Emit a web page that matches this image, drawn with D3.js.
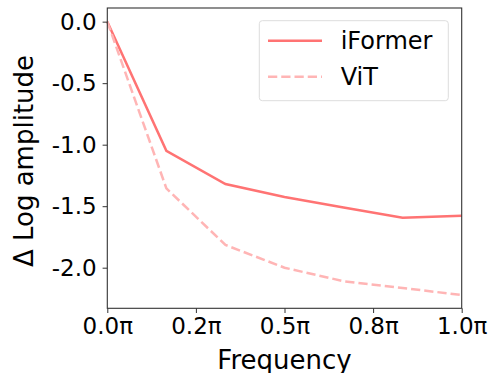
<!DOCTYPE html>
<html>
<head>
<meta charset="utf-8">
<script src="https://cdn.jsdelivr.net/npm/d3@7"></script>
<style>
  body { margin: 0; background: #fff; }
  text { font-family: "DejaVu Sans", sans-serif; fill: #000; }
</style>
</head>
<body>
<svg id="painter" width="495" height="373"></svg>
<script>
const freq = [0, 1 / 6, 2 / 6, 3 / 6, 4 / 6, 5 / 6, 1];
const iformer = [0, -1.05, -1.32, -1.425, -1.51, -1.593, -1.577];
const vit = [0, -1.355, -1.815, -2.0, -2.11, -2.165, -2.222];
const xTicks = [0, 0.25, 0.5, 0.75, 1];
const xTickLabels = ["0.0π", "0.2π", "0.5π", "0.8π", "1.0π"];
const yTicks = [0, -0.5, -1, -1.5, -2];

const series = [
    { name: "iFormer", values: iformer, color: "#ff7373", dash: null },
    { name: "ViT", values: vit, color: "#ffb5b5", dash: "9.25,4" },
];

const pLeft = 107.3, pRight = 461.7, pTop = 8, pBottom = 308.3;
const svg = d3.select("#painter");

const x = d3.scaleLinear().domain([0, 1]).range([pLeft, pRight]);
const y = d3.scaleLinear().domain([-2.33, 0.111]).range([pBottom, pTop]);

// lines
const line = d3
    .line()
    .x((d, i) => x(freq[i]))
    .y((d) => y(d));

svg.selectAll("path.series")
    .data(series)
    .enter()
    .append("path")
    .attr("class", "series")
    .attr("d", (d) => line(d.values))
    .attr("fill", "none")
    .attr("stroke", (d) => d.color)
    .attr("stroke-width", 2.5)
    .attr("stroke-dasharray", (d) => d.dash);

// axes
const xAxis = svg
    .append("g")
    .attr("transform", `translate(0,${pBottom})`)
    .call(
        d3.axisBottom(x)
            .tickValues(xTicks)
            .tickFormat((d, i) => xTickLabels[i])
            .tickSize(4.7)
            .tickPadding(5)
    );
const yAxis = svg
    .append("g")
    .attr("transform", `translate(${pLeft},0)`)
    .call(
        d3.axisLeft(y)
            .tickValues(yTicks)
            .tickFormat((d) => d3.format(".1f")(d).replace("−", "-"))
            .tickSize(4.7)
            .tickPadding(6)
    );
[xAxis, yAxis].forEach((g) => {
    g.select(".domain").remove();
    g.selectAll(".tick line").attr("stroke", "#333").attr("stroke-width", 1);
    g.selectAll(".tick text")
        .style("font-family", "DejaVu Sans")
        .style("font-size", "23px")
        .attr("fill", "#000");
});

// frame
svg.append("rect")
    .attr("x", pLeft)
    .attr("y", pTop)
    .attr("width", pRight - pLeft)
    .attr("height", pBottom - pTop)
    .attr("fill", "none")
    .attr("stroke", "#333")
    .attr("stroke-width", 1.1);

// labels
svg.append("text")
    .attr("x", (pLeft + pRight) / 2)
    .attr("y", 369)
    .attr("text-anchor", "middle")
    .style("font-size", "26px")
    .text("Frequency");

svg.append("text")
    .attr("transform", "translate(33,161) rotate(-90)")
    .attr("text-anchor", "middle")
    .style("font-size", "26px")
    .text("Δ Log amplitude");

// legend
const legend = svg.append("g");
legend.append("rect")
    .attr("x", 259.3)
    .attr("y", 20.7)
    .attr("width", 189)
    .attr("height", 80)
    .attr("rx", 3)
    .attr("fill", "#fff")
    .attr("fill-opacity", 0.8)
    .attr("stroke", "#ddd")
    .attr("stroke-width", 1);

const items = legend
    .selectAll("g.item")
    .data(series)
    .enter()
    .append("g")
    .attr("class", "item")
    .attr("transform", (d, i) => `translate(0,${40.7 + i * 36})`);
items.append("line")
    .attr("x1", 268)
    .attr("x2", 322)
    .attr("stroke", (d) => d.color)
    .attr("stroke-width", 2.5)
    .attr("stroke-dasharray", (d) => d.dash);
items.append("text")
    .attr("x", 340.7)
    .attr("y", 8.3)
    .style("font-size", "24px")
    .text((d) => d.name);
</script>
</body>
</html>
